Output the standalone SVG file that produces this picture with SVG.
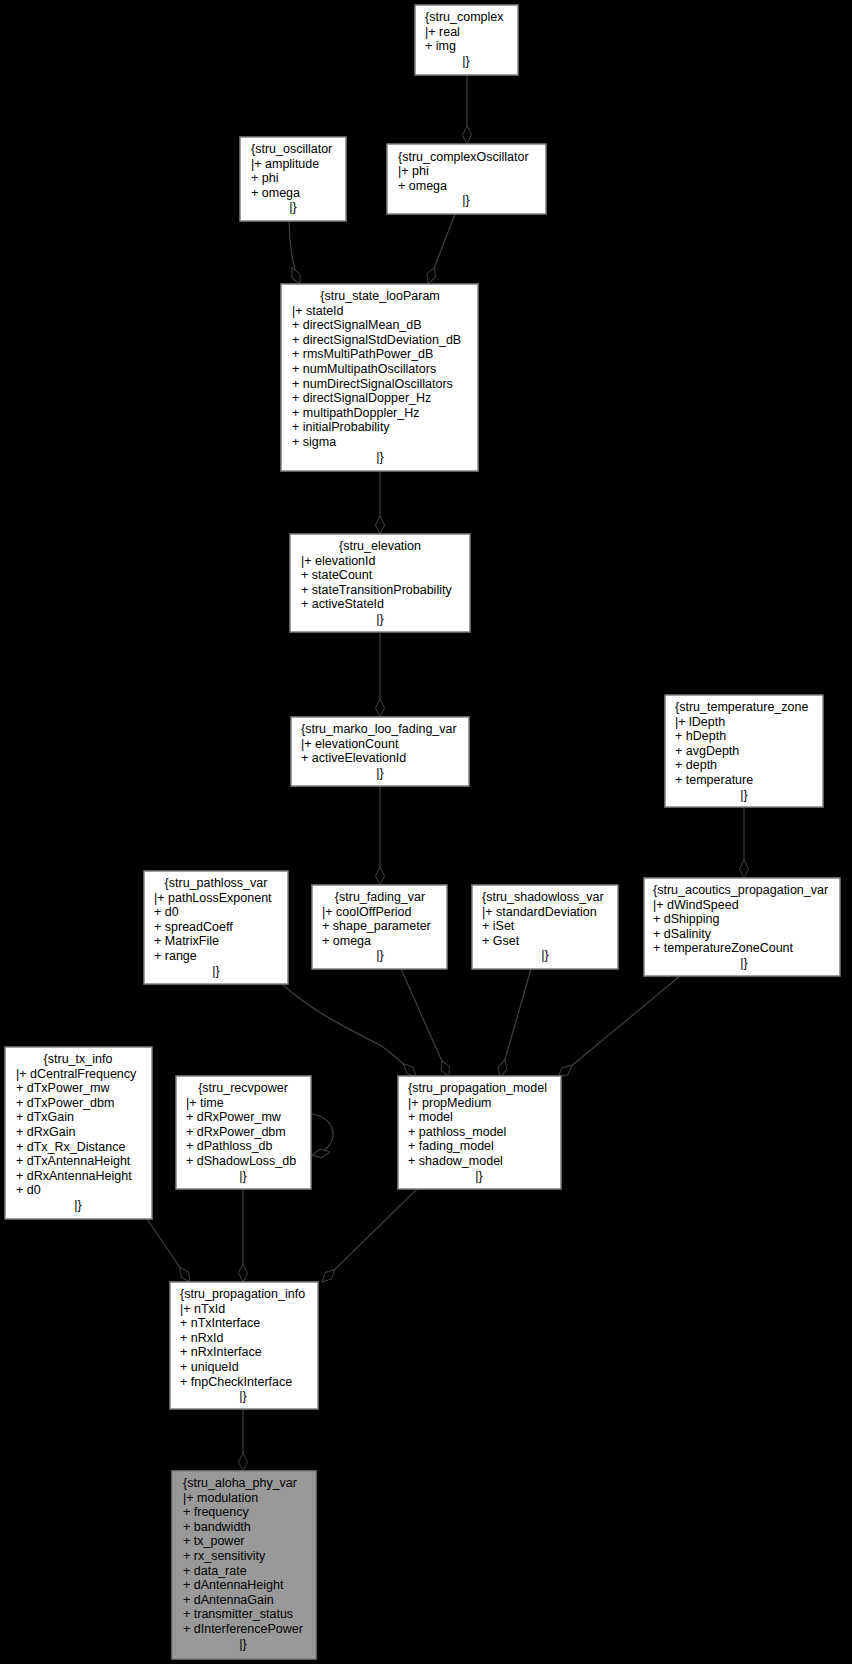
<svg xmlns="http://www.w3.org/2000/svg" width="852" height="1664" viewBox="0 0 852 1664">
<style>
.b{fill:#fff;stroke:#808080;stroke-width:1.5}
.g{fill:#999;stroke:#808080;stroke-width:1.5}
text{font-family:"Liberation Sans",Arial,sans-serif;font-size:12.5px;fill:#000}
.c{text-anchor:middle}
.e{fill:none;stroke:#404040;stroke-width:1.2;marker-end:url(#d)}
</style>
<defs><marker id="d" markerUnits="userSpaceOnUse" markerWidth="20" markerHeight="10" viewBox="-19 -5 20 10" refX="0" refY="0" orient="auto"><path d="M0,0 L-9,-4.5 L-18,0 L-9,4.5 Z" fill="#000" stroke="#404040" stroke-width="1"/></marker></defs>
<rect width="852" height="1664" fill="#000"/>
<g id="connectors">
<path class="e" d="M467,75 L467,144"/>
<path class="e" d="M289,221 C290,250 293,270 300,284"/>
<path class="e" d="M455,214 L428,284"/>
<path class="e" d="M380,471 L380,534"/>
<path class="e" d="M380,632 L380,717"/>
<path class="e" d="M380,786 L380,885"/>
<path class="e" d="M744,807 L744,878"/>
<path class="e" d="M282,984 C310,1010 350,1030 380,1045 C395,1055 405,1065 416,1077"/>
<path class="e" d="M401,969 L449,1077"/>
<path class="e" d="M531,969 L500,1077"/>
<path class="e" d="M680,976 L558,1077"/>
<path class="e" d="M147,1219 L190,1282"/>
<path class="e" d="M243,1189 L243,1282"/>
<path class="e" d="M417,1189 L322,1282"/>
<path class="e" d="M312,1114 C340,1118 340,1150 312,1155"/>
<path class="e" d="M243,1409 L243,1471"/>
</g>
<g id="stru_complex"><rect class="b" x="415" y="5" width="103" height="70"/><text x="425" y="21">{stru_complex</text><text x="425" y="36">|+ real</text><text x="425" y="50">+ img</text><text class="c" x="466" y="65">|}</text></g>
<g id="stru_oscillator"><rect class="b" x="240" y="137" width="106" height="84"/><text x="251" y="153">{stru_oscillator</text><text x="251" y="168">|+ amplitude</text><text x="251" y="182">+ phi</text><text x="251" y="197">+ omega</text><text class="c" x="293" y="211">|}</text></g>
<g id="stru_complexOscillator"><rect class="b" x="387" y="144" width="159" height="70"/><text x="398" y="161">{stru_complexOscillator</text><text x="398" y="175">|+ phi</text><text x="398" y="190">+ omega</text><text class="c" x="466" y="204">|}</text></g>
<g id="stru_state_looParam"><rect class="b" x="281" y="284" width="197" height="187"/>
<text class="c" x="380" y="300">{stru_state_looParam</text>
<text x="292" y="314.6">|+ stateId</text><text x="292" y="329.2">+ directSignalMean_dB</text><text x="292" y="343.8">+ directSignalStdDeviation_dB</text><text x="292" y="358.4">+ rmsMultiPathPower_dB</text><text x="292" y="373">+ numMultipathOscillators</text><text x="292" y="387.6">+ numDirectSignalOscillators</text><text x="292" y="402.2">+ directSignalDopper_Hz</text><text x="292" y="416.8">+ multipathDoppler_Hz</text><text x="292" y="431.4">+ initialProbability</text><text x="292" y="446">+ sigma</text><text class="c" x="380" y="460.6">|}</text></g>
<g id="stru_elevation"><rect class="b" x="290" y="534" width="180" height="98"/>
<text class="c" x="380" y="550">{stru_elevation</text><text x="301" y="564.6">|+ elevationId</text><text x="301" y="579.2">+ stateCount</text><text x="301" y="593.8">+ stateTransitionProbability</text><text x="301" y="608.4">+ activeStateId</text><text class="c" x="380" y="623">|}</text></g>
<g id="stru_marko_loo_fading_var"><rect class="b" x="291" y="717" width="178" height="69"/>
<text x="301" y="733">{stru_marko_loo_fading_var</text><text x="301" y="747.6">|+ elevationCount</text><text x="301" y="762.2">+ activeElevationId</text><text class="c" x="380" y="776.8">|}</text></g>
<g id="stru_temperature_zone"><rect class="b" x="665" y="695" width="158" height="112"/>
<text x="675" y="711">{stru_temperature_zone</text><text x="675" y="725.6">|+ lDepth</text><text x="675" y="740.2">+ hDepth</text><text x="675" y="754.8">+ avgDepth</text><text x="675" y="769.4">+ depth</text><text x="675" y="784">+ temperature</text><text class="c" x="744" y="798.6">|}</text></g>
<g id="stru_pathloss_var"><rect class="b" x="144" y="871" width="144" height="113"/>
<text class="c" x="216" y="887">{stru_pathloss_var</text><text x="154" y="901.6">|+ pathLossExponent</text><text x="154" y="916.2">+ d0</text><text x="154" y="930.8">+ spreadCoeff</text><text x="154" y="945.4">+ MatrixFile</text><text x="154" y="960">+ range</text><text class="c" x="216" y="974.6">|}</text></g>
<g id="stru_fading_var"><rect class="b" x="312" y="885" width="135" height="84"/>
<text class="c" x="380" y="901">{stru_fading_var</text><text x="322" y="915.6">|+ coolOffPeriod</text><text x="322" y="930.2">+ shape_parameter</text><text x="322" y="944.8">+ omega</text><text class="c" x="380" y="959.4">|}</text></g>
<g id="stru_shadowloss_var"><rect class="b" x="472" y="885" width="146" height="84"/>
<text x="482" y="901">{stru_shadowloss_var</text><text x="482" y="915.6">|+ standardDeviation</text><text x="482" y="930.2">+ iSet</text><text x="482" y="944.8">+ Gset</text><text class="c" x="545" y="959.4">|}</text></g>
<g id="stru_acoutics_propagation_var"><rect class="b" x="644" y="878" width="196" height="98"/>
<text x="653" y="894">{stru_acoutics_propagation_var</text><text x="653" y="908.6">|+ dWindSpeed</text><text x="653" y="923.2">+ dShipping</text><text x="653" y="937.8">+ dSalinity</text><text x="653" y="952.4">+ temperatureZoneCount</text><text class="c" x="744" y="967">|}</text></g>
<g id="stru_tx_info"><rect class="b" x="5" y="1047" width="147" height="172"/>
<text class="c" x="78" y="1063">{stru_tx_info</text><text x="16" y="1077.6">|+ dCentralFrequency</text><text x="16" y="1092.2">+ dTxPower_mw</text><text x="16" y="1106.8">+ dTxPower_dbm</text><text x="16" y="1121.4">+ dTxGain</text><text x="16" y="1136">+ dRxGain</text><text x="16" y="1150.6">+ dTx_Rx_Distance</text><text x="16" y="1165.2">+ dTxAntennaHeight</text><text x="16" y="1179.8">+ dRxAntennaHeight</text><text x="16" y="1194.4">+ d0</text><text class="c" x="78" y="1209">|}</text></g>
<g id="stru_recvpower"><rect class="b" x="176" y="1076" width="135" height="113"/>
<text class="c" x="243" y="1092">{stru_recvpower</text><text x="186" y="1106.6">|+ time</text><text x="186" y="1121.2">+ dRxPower_mw</text><text x="186" y="1135.8">+ dRxPower_dbm</text><text x="186" y="1150.4">+ dPathloss_db</text><text x="186" y="1165">+ dShadowLoss_db</text><text class="c" x="243" y="1179.6">|}</text></g>
<g id="stru_propagation_model"><rect class="b" x="398" y="1076" width="163" height="113"/>
<text x="408" y="1092">{stru_propagation_model</text><text x="408" y="1106.6">|+ propMedium</text><text x="408" y="1121.2">+ model</text><text x="408" y="1135.8">+ pathloss_model</text><text x="408" y="1150.4">+ fading_model</text><text x="408" y="1165">+ shadow_model</text><text class="c" x="479" y="1179.6">|}</text></g>
<g id="stru_propagation_info"><rect class="b" x="170" y="1282" width="148" height="127"/>
<text x="180" y="1298">{stru_propagation_info</text><text x="180" y="1312.6">|+ nTxId</text><text x="180" y="1327.2">+ nTxInterface</text><text x="180" y="1341.8">+ nRxId</text><text x="180" y="1356.4">+ nRxInterface</text><text x="180" y="1371">+ uniqueId</text><text x="180" y="1385.6">+ fnpCheckInterface</text><text class="c" x="243" y="1400.2">|}</text></g>
<g id="stru_aloha_phy_var"><rect class="g" x="172" y="1471" width="144" height="188"/>
<text x="183" y="1487">{stru_aloha_phy_var</text><text x="183" y="1501.6">|+ modulation</text><text x="183" y="1516.2">+ frequency</text><text x="183" y="1530.8">+ bandwidth</text><text x="183" y="1545.4">+ tx_power</text><text x="183" y="1560">+ rx_sensitivity</text><text x="183" y="1574.6">+ data_rate</text><text x="183" y="1589.2">+ dAntennaHeight</text><text x="183" y="1603.8">+ dAntennaGain</text><text x="183" y="1618.4">+ transmitter_status</text><text x="183" y="1633">+ dInterferencePower</text><text class="c" x="243" y="1647.6">|}</text></g>
</svg>
